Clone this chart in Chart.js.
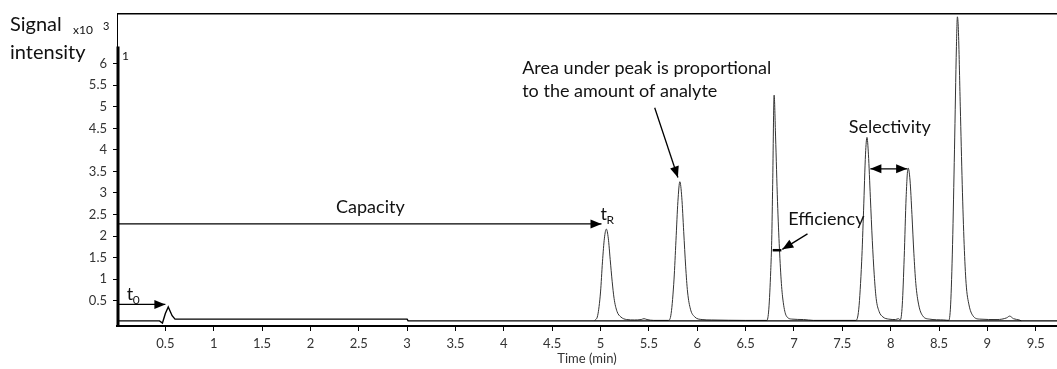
<!DOCTYPE html>
<html>
<head>
<meta charset="utf-8">
<title>Chromatogram</title>
<script src="https://cdn.jsdelivr.net/npm/chart.js@4.4.1/dist/chart.umd.min.js"></script>
<style>
body { margin: 0; background: #fff; }
#wrap { width: 1057px; height: 369px; position: relative; }
</style>
</head>
<body>
<div id="wrap"><canvas id="chart"></canvas></div>
<script>
//--Datos----------------------------
var xTicks = [0.5, 1, 1.5, 2, 2.5, 3, 3.5, 4, 4.5, 5, 5.5, 6, 6.5, 7, 7.5, 8, 8.5, 9, 9.5];
var yTicks = [0.5, 1, 1.5, 2, 2.5, 3, 3.5, 4, 4.5, 5, 5.5, 6];

// dead-time trace (t0 peak and baseline)
var baseTime   = [0, 0.44, 0.47, 0.50, 0.53, 0.57, 0.60, 1.5, 3.0, 3.01, 9.72];
var baseSignal = [0.03, 0.03, -0.02, 0.20, 0.35, 0.15, 0.07, 0.07, 0.07, 0.03, 0.03];

// analyte peaks
var peakTime = [
    4.94, 4.97, 5.00, 5.02, 5.04, 5.06, 5.08, 5.10, 5.12, 5.14, 5.17, 5.21, 5.27, 5.35, 5.42, 5.45, 5.48, 5.55,
    5.70, 5.73, 5.76, 5.78, 5.80, 5.82, 5.84, 5.86, 5.88, 5.90, 5.93, 5.97, 6.05, 6.15, 6.50,
    6.72, 6.74, 6.76, 6.77, 6.78, 6.795, 6.81, 6.83, 6.85, 6.87, 6.89, 6.92, 6.98, 7.10, 7.20,
    7.64, 7.67, 7.70, 7.72, 7.74, 7.755, 7.77, 7.79, 7.81, 7.83, 7.85, 7.88, 7.92, 7.98, 8.05, 8.08,
    8.10, 8.12, 8.14, 8.16, 8.18, 8.20, 8.22, 8.24, 8.26, 8.29, 8.33, 8.40, 8.55,
    8.60, 8.62, 8.64, 8.66, 8.68, 8.69, 8.70, 8.72, 8.74, 8.76, 8.78, 8.81, 8.85, 8.92, 9.10, 9.20, 9.23, 9.27, 9.33, 9.35
];
var peakSignal = [
    0.04, 0.15, 0.70, 1.40, 1.95, 2.16, 1.95, 1.45, 0.95, 0.55, 0.25, 0.12, 0.06, 0.05, 0.06, 0.08, 0.06, 0.04,
    0.04, 0.20, 1.00, 1.90, 2.80, 3.26, 2.90, 2.10, 1.30, 0.70, 0.30, 0.13, 0.06, 0.05, 0.04,
    0.04, 0.30, 1.20, 1.90, 3.20, 5.27, 4.30, 2.80, 1.70, 0.90, 0.45, 0.15, 0.07, 0.06, 0.04,
    0.04, 0.30, 1.40, 2.60, 3.90, 4.29, 3.90, 2.90, 1.90, 1.10, 0.55, 0.25, 0.12, 0.07, 0.06, 0.08,
    0.05, 0.40, 1.50, 2.90, 3.58, 3.30, 2.50, 1.60, 0.90, 0.40, 0.15, 0.07, 0.05,
    0.04, 0.40, 1.80, 4.00, 6.40, 7.09, 6.80, 5.00, 3.20, 1.80, 0.90, 0.40, 0.15, 0.07, 0.06, 0.10, 0.14, 0.08, 0.05, 0.03
];

var FONT = 'Lato, "Open Sans", sans-serif';

function pairs(xs, ys) {
    return xs.map(function(x, i) { return { x: x, y: ys[i] }; });
}

function arrowHead(ctx, x1, y1, x2, y2) {
    var ang = Math.atan2(y2 - y1, x2 - x1), len = 11, w = 4.5;
    ctx.beginPath();
    ctx.moveTo(x2, y2);
    ctx.lineTo(x2 - len * Math.cos(ang) + w * Math.sin(ang), y2 - len * Math.sin(ang) - w * Math.cos(ang));
    ctx.lineTo(x2 - len * Math.cos(ang) - w * Math.sin(ang), y2 - len * Math.sin(ang) + w * Math.cos(ang));
    ctx.closePath();
    ctx.fill();
}

function arrow(ctx, x1, y1, x2, y2, both) {
    ctx.beginPath();
    ctx.moveTo(x1, y1);
    ctx.lineTo(x2, y2);
    ctx.stroke();
    arrowHead(ctx, x1, y1, x2, y2);
    if (both) arrowHead(ctx, x2, y2, x1, y1);
}

//--Anotaciones----------------------------
var annotations = {
    id: 'annotations',
    afterDraw: function(chart) {
        var ctx = chart.ctx, a = chart.chartArea;
        var px = function(t) { return chart.scales.x.getPixelForValue(t); };
        var py = function(v) { return chart.scales.y.getPixelForValue(v); };
        ctx.save();
        ctx.strokeStyle = '#000';
        ctx.fillStyle = '#000';

        // frame
        ctx.lineWidth = 1.5;
        ctx.beginPath();
        ctx.moveTo(a.left, a.top);
        ctx.lineTo(a.right, a.top);
        ctx.stroke();
        ctx.lineWidth = 3;
        ctx.beginPath();
        ctx.moveTo(a.left + 1, py(6.4));
        ctx.lineTo(a.left + 1, a.bottom);
        ctx.stroke();

        // arrows
        ctx.lineWidth = 1.3;
        arrow(ctx, a.left, py(0.41), px(0.50), py(0.41));
        arrow(ctx, a.left, py(2.28), px(5.01), py(2.28));
        arrow(ctx, px(5.56), py(4.98), px(5.80), py(3.36));
        arrow(ctx, px(7.14), py(2.05), px(6.88), py(1.69));
        arrow(ctx, px(7.79), py(3.56), px(8.17), py(3.56), true);
        ctx.lineWidth = 2.5;
        ctx.beginPath();
        ctx.moveTo(px(6.78), py(1.67));
        ctx.lineTo(px(6.87), py(1.67));
        ctx.stroke();

        // texts
        ctx.fillStyle = '#111';
        ctx.textBaseline = 'middle';
        ctx.font = '18px ' + FONT;
        ctx.textAlign = 'center';
        ctx.fillText('Capacity', px(2.62), py(2.68));
        ctx.fillText('Selectivity', px(7.99), py(4.52));
        ctx.textAlign = 'left';
        ctx.fillText('Area under peak is proportional', px(4.19), py(5.89));
        ctx.fillText('to the amount of analyte', px(4.19), py(5.37));
        ctx.fillText('Efficiency', px(6.94), py(2.39));
        ctx.fillText('t', px(0.10), py(0.64));
        ctx.fillText('t', px(5.00), py(2.50));
        ctx.font = '12px ' + FONT;
        ctx.fillText('0', px(0.10) + 6, py(0.64) + 6);
        ctx.fillText('R', px(5.00) + 6, py(2.50) + 6);

        // axis caption
        ctx.font = '20px ' + FONT;
        ctx.fillText('Signal', 10, 25);
        ctx.fillText('intensity', 10, 53);
        ctx.font = '12px ' + FONT;
        ctx.fillText('x10', 73, 30);
        ctx.font = '11px ' + FONT;
        ctx.fillText('3', 103, 26);
        ctx.font = '12px ' + FONT;
        ctx.fillText('1', a.left + 5, 56);
        ctx.restore();
    }
};

var ctx = document.getElementById('chart').getContext('2d');
var myChart = new Chart(ctx, {
    type: 'line',
    data: {
        datasets: [{
            label: 'Baseline',
            data: pairs(baseTime, baseSignal),
            borderColor: '#000',
            borderWidth: 1.4,
            pointRadius: 0,
            fill: false
        }, {
            label: 'Signal',
            data: pairs(peakTime, peakSignal),
            borderColor: '#333',
            borderWidth: 1,
            pointRadius: 0,
            cubicInterpolationMode: 'monotone',
            fill: false
        }]
    },
    options: {
        responsive: true,
        maintainAspectRatio: false,
        animation: false,
        layout: { padding: { top: 10, right: 0, left: 0, bottom: 0 } },
        plugins: {
            legend: { display: false },
            tooltip: { enabled: false }
        },
        scales: {
            x: {
                type: 'linear',
                min: 0,
                max: 9.72,
                afterBuildTicks: function(axis) {
                    axis.ticks = xTicks.map(function(v) { return { value: v }; });
                },
                afterFit: function(axis) { axis.height = 43; },
                ticks: {
                    color: '#333',
                    font: { family: FONT, size: 13 },
                    padding: 5,
                    maxRotation: 0,
                    autoSkip: false,
                    callback: function(v) { return String(v); }
                },
                grid: { drawOnChartArea: false, color: '#000', tickLength: 5 },
                border: { color: '#000', width: 2 },
                title: {
                    display: true,
                    text: 'Time (min)',
                    color: '#333',
                    font: { family: FONT, size: 13 },
                    padding: { top: 0, bottom: 2 }
                }
            },
            y: {
                min: -0.09,
                max: 7.16,
                afterBuildTicks: function(axis) {
                    axis.ticks = yTicks.map(function(v) { return { value: v }; });
                },
                afterFit: function(axis) { axis.width = 117; },
                ticks: {
                    color: '#333',
                    font: { family: FONT, size: 13 },
                    padding: 6,
                    autoSkip: false,
                    callback: function(v) { return String(v); }
                },
                grid: { drawOnChartArea: false, color: '#000', tickLength: 4 },
                border: { color: '#000', width: 1 }
            }
        }
    },
    plugins: [annotations]
});
</script>
</body>
</html>
